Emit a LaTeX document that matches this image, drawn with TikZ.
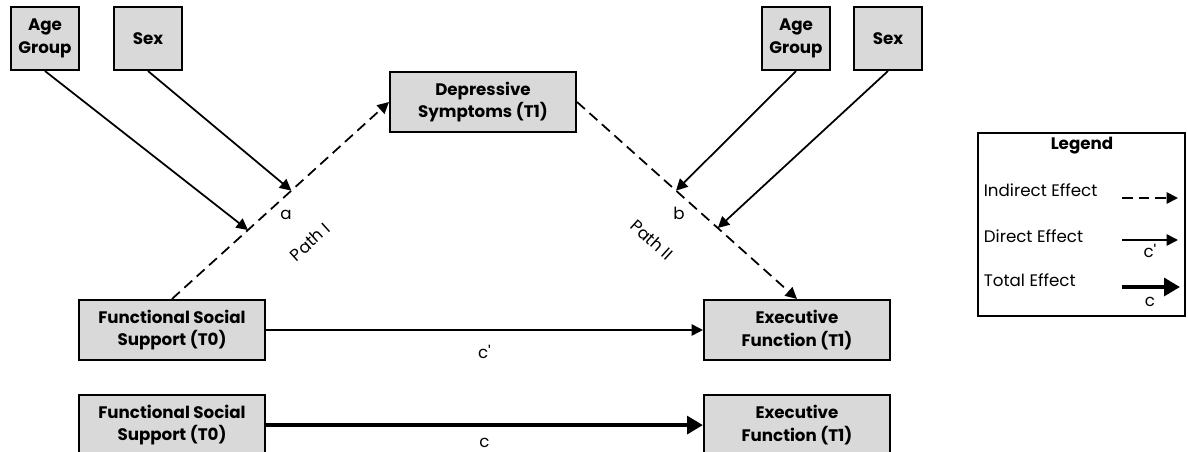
\documentclass[tikz,border=0pt]{standalone}
\usepackage{fontspec}
\setmainfont{Poppins}
\usepackage{tikz}
\usetikzlibrary{arrows.meta,calc,positioning}
\definecolor{boxgray}{RGB}{217,217,217}
\tikzset{SEM style/.style={>={Triangle[length=6.5pt,width=6.5pt]},line width=1pt,
	every node/.style={font=\fontsize{9.5}{12}\selectfont},
	box/.style={draw,line width=1.2pt,fill=boxgray,align=center,inner sep=2pt,
		font=\fontsize{9.5}{13}\selectfont\bfseries}}}

\begin{document}
\begin{tikzpicture}[x=0.02cm,y=-0.02cm,SEM style,node distance=0.66cm and 8.74cm]
	\tikzstyle{var}=[box,minimum width=3.72cm,minimum height=1.2cm]
	\tikzstyle{cov}=[box,minimum width=1.36cm,minimum height=1.26cm]
	\tikzstyle{ind}=[dash pattern=on 6pt off 3.5pt]
	\tikzstyle{tot}=[line width=2.4pt,>={Triangle[length=9pt,width=10pt]}]
	\useasboundingbox (0,0) rectangle (1188,452);

	% mediation model
	\node[var] at (172,330) (fss) {Functional Social\\Support (T0)};
	\node[var] [right = of fss] (ef) {Executive\\Function (T1)};
	\node[var] at (483,102) (dep) {Depressive\\Symptoms (T1)};

	% covariates
	\node[cov] at (45,38.5) (ageL) {Age\\Group};
	\node[cov] at (148,38.5) (sexL) {Sex};
	\node[cov] at (796,38.5) (ageR) {Age\\Group};
	\node[cov] at (888,38.5) (sexR) {Sex};

	% total effect model
	\node[var] [below = of fss] (fss2) {Functional Social\\Support (T0)};
	\node[var] [below = of ef] (ef2) {Executive\\Function (T1)};

	\draw[->,ind] (fss.north) -- coordinate[pos=0.35] (pa1) coordinate[pos=0.55] (pa2) (dep.west);
	\draw[->,ind] (dep.east) -- coordinate[pos=0.45] (pb1) coordinate[pos=0.64] (pb2) (ef.north);

	\path[->]
	(ageL.south) edge (pa1)
	(sexL.south) edge (pa2)
	(ageR.south) edge (pb1)
	(sexR.south) edge (pb2)
	(fss) edge node[below=5pt] (lblcp) {c\textquotesingle} (ef)
	;
	\draw[->,tot] (fss2) -- node[below=3pt] (lblc) {c} (ef2);

	\node[inner sep=1pt] at (286,215) (lbla) {a};
	\node[rotate=42,inner sep=1pt] at (310,242) (pathI) {Path I};
	\node[inner sep=1pt] at (679,213) (lblb) {b};
	\node[rotate=-42,inner sep=1pt] at (652,240) (pathII) {Path II};

	% legend
	\node[draw,line width=1.2pt,minimum width=4.14cm,minimum height=3.66cm] at (1081.5,224.5) (legend) {};
	\node[font=\fontsize{9.5}{12}\selectfont\bfseries] at (1082,146) (legtitle) {Legend};
	\node[anchor=west,inner sep=0pt] at (983,190) (legind) {Indirect Effect};
	\node[anchor=west,inner sep=0pt] at (983,236) (legdir) {Direct Effect};
	\node[anchor=west,inner sep=0pt] at (983,280) (legtot) {Total Effect};
	\coordinate (i1) at (1122,198);
	\coordinate (i2) at (1178,198);
	\coordinate (d1) at (1122,240);
	\coordinate (d2) at (1178,240);
	\coordinate (t1) at (1122,287);
	\coordinate (t2) at (1180,287);
	\draw[->,ind] (i1) -- (i2);
	\draw[->] (d1) -- (d2);
	\draw[->,tot] (t1) -- (t2);
	\node at (1150,251) (legcp) {c\textquotesingle};
	\node at (1150,302) (legc) {c};
\end{tikzpicture}
\end{document}
